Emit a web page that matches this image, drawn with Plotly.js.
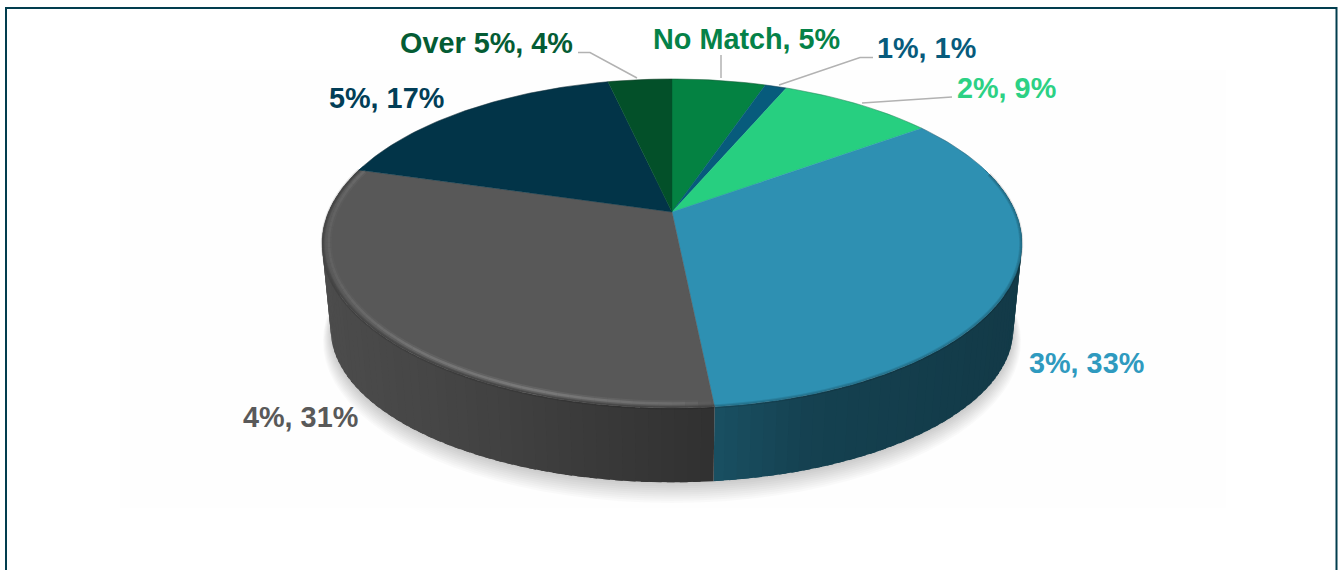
<!DOCTYPE html>
<html>
<head>
<meta charset="utf-8">
<script src="https://cdn.plot.ly/plotly-3.0.1.min.js"></script>
<style>html,body{margin:0;padding:0;background:#fff;overflow:hidden}#chart{width:1338px;height:570px}</style>
</head>
<body>
<div id="chart"></div>
<script>
// ---- data ----
const categories = ["No Match", "1%", "2%", "3%", "4%", "5%", "Over 5%"];
const shownPercent = [5, 1, 9, 33, 31, 17, 4];
const sliceValues = [5.2, 1.2, 8.6, 33.4, 31.1, 16.95, 3.55];
const sliceColors = ["#048242", "#075b7c", "#27cf80", "#2e90b2", "#585858", "#023448", "#035029"];
const labelColors = ["#058248", "#075b7c", "#2cd184", "#2f9abf", "#595959", "#023e57", "#045c34"];
const labelX = [746, 926.5, 1006, 1086, 300, 386.5, 486.5];
const labelY = [39, 48, 88, 363, 417, 98, 43];

// ---- projection of the tilted disc ----
const apex = {x: 672, y: 212};
const persp = 0.1915, scaleY = 158.5, scaleX = 343.5;
const depth = {sx: 0.975, sy: 0.93, dy: 88};
const total = sliceValues.reduce((a, b) => a + b, 0);
const toAngle = p => p / total * 2 * Math.PI;
function face(p, r = 1) {
  const a = toAngle(p), sx = r * Math.sin(a), sy = r * Math.cos(a), w = 1 + persp * sy;
  return {X: scaleX * sx / w, Y: -scaleY * sy / w};
}
const topPt = (p, r = 1) => { const f = face(p, r); return [apex.x + f.X, apex.y + f.Y]; };
const lowPt = (p, r = 1) => { const f = face(p, r); return [apex.x + f.X * depth.sx, apex.y + f.Y * depth.sy + depth.dy]; };

function rgb(hex) { return [1, 3, 5].map(i => parseInt(hex.substr(i, 2), 16)); }
function lerpTable(t, tbl) {
  if (t <= tbl[0][0]) return tbl[0][1];
  for (let i = 1; i < tbl.length; i++) if (t <= tbl[i][0]) {
    const u = (t - tbl[i - 1][0]) / (tbl[i][0] - tbl[i - 1][0]);
    return tbl[i - 1][1] + u * (tbl[i][1] - tbl[i - 1][1]);
  }
  return tbl[tbl.length - 1][1];
}
const wallShade = [[-1, 0.86], [-0.6, 0.77], [-0.3, 0.68], [0.12, 0.55], [0.4, 0.45], [1, 0.4]];
const silent = {mode: "lines", hoverinfo: "skip", showlegend: false, type: "scatter"};
const traces = [];

// soft drop shadow
for (let k = 0; k < 10; k++) {
  const xs = [], ys = [];
  for (let p = 0; p <= total; p += 1) {
    const f = face(p);
    xs.push(apex.x + f.X * (depth.sx + 0.0025 * k));
    ys.push(apex.y + f.Y * (depth.sy + 0.006 * k) + depth.dy + 2 + 0.9 * k);
  }
  traces.push({...silent, x: xs, y: ys, fill: "toself", fillcolor: "rgba(0,0,0,0.02)", line: {width: 0}});
}

// side wall: strips overlap the next one so no seams show
let start = 0;
const bounds = sliceValues.map(v => { const b = [start, start + v]; start += v; return b; });
const step = 0.5;
bounds.forEach((b, i) => {
  const base = rgb(sliceColors[i]);
  const from = Math.max(b[0], total * 0.2), to = Math.min(b[1], total * 0.8);
  for (let p = from; p < to; p += step) {
    const q = Math.min(p + step * 1.6, to);
    const a = topPt(p), c = topPt(q), d = lowPt(q), e = lowPt(p);
    const t = face(p + step / 2).X / 350;
    const s = lerpTable(t, wallShade);
    const col = `rgb(${base.map(v => Math.round(v * s)).join(",")})`;
    traces.push({...silent, x: [a[0], c[0], d[0], e[0], a[0]], y: [a[1], c[1], d[1], e[1], a[1]],
      fill: "toself", fillcolor: col, line: {width: 0}});
  }
});

// top face wedges
bounds.forEach((b, i) => {
  const xs = [apex.x], ys = [apex.y];
  for (let p = b[0]; p < b[1]; p += 0.25) { const q = topPt(p); xs.push(q[0]); ys.push(q[1]); }
  const e = topPt(b[1]); xs.push(e[0], apex.x); ys.push(e[1], apex.y);
  traces.push({...silent, x: xs, y: ys, fill: "toself", fillcolor: sliceColors[i],
    line: {color: sliceColors[i], width: 0.4}, name: categories[i]});
});

// rim: highlight on the lit side, soft dark edge in front, thin line behind
const rimFrom = bounds[3][0] + 6, rimTo = bounds[4][1];
for (let p = rimFrom; p < rimTo - 0.01; p += 0.5) {
  const q = Math.min(p + 0.5, rimTo);
  const t = face(p + 0.25).X / 350;
  const lit = 0.2 * lerpTable(t, [[-1, 0.3], [-0.75, 0.8], [-0.4, 1], [0.03, 0.55], [0.12, 0], [1, 0]]);
  const seg = r => { const a = topPt(p, r), b = topPt(q, r); return {x: [a[0], b[0]], y: [a[1], b[1]]}; };
  if (lit > 0.004) {
    traces.push({...silent, ...seg(0.981), line: {color: `rgba(255,255,255,${lit * 0.35})`, width: 6}});
    traces.push({...silent, ...seg(0.981), line: {color: `rgba(255,255,255,${lit * 0.7})`, width: 2.5}});
  }
  traces.push({...silent, ...seg(0.998), line: {color: "rgba(0,0,0,0.10)", width: 4}});
  traces.push({...silent, ...seg(0.998), line: {color: "rgba(0,0,0,0.10)", width: 2}});
}
{
  const xs = [], ys = [];
  for (let p = total * 0.8; p <= total * 1.2; p += 0.5) { const q = topPt(p); xs.push(q[0]); ys.push(q[1]); }
  traces.push({...silent, x: xs, y: ys, line: {color: "rgba(40,40,40,0.35)", width: 0.7}});
}

const annotations = categories.map((c, i) => ({
  x: labelX[i], y: labelY[i], xref: "x", yref: "y", xanchor: "center", yanchor: "middle",
  text: c + ", " + shownPercent[i] + "%", showarrow: false,
  font: {family: "Liberation Sans, Arial, sans-serif", size: 28.8, color: labelColors[i], weight: 700}
}));

const leader = {type: "path", xref: "x", yref: "y", line: {color: "#b2b2b2", width: 1.5}};
const shapes = [
  {type: "rect", xref: "x", yref: "y", x0: 120, x1: 1226, y0: 70, y1: 508, layer: "below", fillcolor: "#fefefe", line: {width: 0}},
  {...leader, path: "M 578 52.5 L 590 52.5 L 637 78"},
  {...leader, path: "M 721 55 L 721 78"},
  {...leader, path: "M 873 57.5 L 860 57.5 L 779 85"},
  {...leader, path: "M 952 97 L 862 103"},
  {type: "path", xref: "x", yref: "y", path: "M 6 571 L 6 8 L 1336.5 8 L 1336.5 571", line: {color: "#023e4f", width: 2}}
];

Plotly.newPlot("chart", traces, {
  width: 1338, height: 570, margin: {l: 0, r: 0, t: 0, b: 0},
  paper_bgcolor: "#fff", plot_bgcolor: "rgba(0,0,0,0)", showlegend: false,
  xaxis: {range: [0, 1338], visible: false, fixedrange: true},
  yaxis: {range: [570, 0], visible: false, fixedrange: true},
  annotations, shapes, hovermode: false
}, {displayModeBar: false, staticPlot: true});
</script>
</body>
</html>
